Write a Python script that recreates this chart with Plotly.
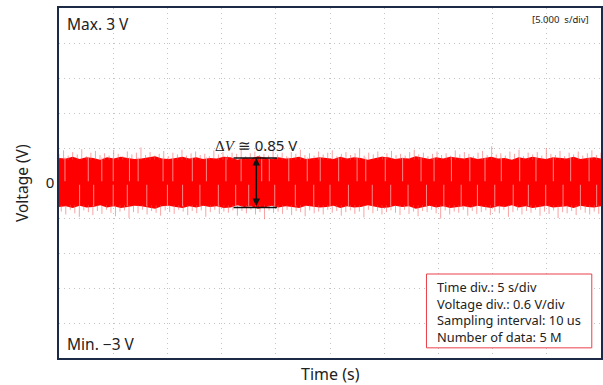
import plotly.graph_objects as go

# ---- data ----
t_start, t_end = 0.0, 50.0          # s (5 s/div, 10 div)
v_min, v_max = -3.0, 3.0            # V (0.6 V/div, 10 div)
v_grid = [-3.0, -2.4, -1.8, -1.2, -0.6, 0.0, 0.6, 1.2, 1.8, 2.4, 3.0]
v_ticktext = ["", "", "", "", "", "0", "", "", "", "", ""]
t_grid = [0, 5, 10, 15, 20, 25, 30, 35, 40, 45, 50]

# solid band envelope (V)
upper_env = [0.43,0.42,0.45,0.41,0.44,0.43,0.40,0.44,0.42,0.45,0.43,0.41,0.42,0.44,0.46,0.42,0.41,0.43,0.45,0.42,
             0.44,0.41,0.43,0.42,0.45,0.44,0.40,0.43,0.42,0.46,0.43,0.41,0.44,0.42,0.43,0.45,0.41,0.42,0.44,0.43,
             0.41,0.45,0.42,0.44,0.43,0.40,0.42,0.45,0.44,0.41,0.43,0.42,0.46,0.43,0.41,0.44,0.42,0.45,0.43,0.42,
             0.44,0.41,0.43,0.45,0.42,0.43,0.40,0.44,0.42,0.45,0.43,0.41,0.44,0.43,0.42,0.45,0.41,0.43,0.44,0.42]
lower_env = [-0.41,-0.40,-0.43,-0.39,-0.42,-0.41,-0.38,-0.42,-0.40,-0.43,-0.41,-0.39,-0.40,-0.42,-0.44,-0.40,-0.39,-0.41,-0.43,-0.40,
             -0.42,-0.39,-0.41,-0.40,-0.43,-0.42,-0.38,-0.41,-0.40,-0.44,-0.41,-0.39,-0.42,-0.40,-0.41,-0.43,-0.39,-0.40,-0.42,-0.41,
             -0.39,-0.43,-0.40,-0.42,-0.41,-0.38,-0.40,-0.43,-0.42,-0.39,-0.41,-0.40,-0.44,-0.41,-0.39,-0.42,-0.40,-0.43,-0.41,-0.40,
             -0.42,-0.39,-0.41,-0.43,-0.40,-0.41,-0.38,-0.42,-0.40,-0.43,-0.41,-0.39,-0.42,-0.41,-0.40,-0.43,-0.39,-0.41,-0.42,-0.40]

# noise spikes beyond the band (V)
upper_spk = [0.50,0.56,0.47,0.53,0.49,0.58,0.46,0.52,0.55,0.48,0.51,0.47,0.57,0.50,0.46,0.54,0.49,0.52,0.61,0.48,
             0.53,0.47,0.50,0.55,0.46,0.52,0.49,0.57,0.47,0.51,0.54,0.48,0.50,0.46,0.56,0.49,0.53,0.47,0.52,0.50,
             0.58,0.46,0.51,0.54,0.48,0.50,0.47,0.55,0.49,0.52,0.46,0.53,0.50,0.57,0.48,0.51,0.47,0.54,0.49,0.52,
             0.56,0.46,0.50,0.53,0.48,0.51,0.59,0.47,0.52,0.49,0.54,0.46,0.51,0.55,0.48,0.50,0.47,0.53,0.57,0.49,
             0.52,0.46,0.50,0.54,0.48,0.51,0.47,0.56,0.49,0.53,0.50,0.46,0.52,0.55,0.48,0.63,0.49,0.51,0.47,0.54,
             0.50,0.57,0.46,0.52,0.49,0.53,0.47,0.60,0.50,0.48,0.55,0.46,0.52,0.49,0.54,0.47,0.51,0.56,0.48,0.52]
lower_spk = [-0.49,-0.54,-0.46,-0.52,-0.58,-0.47,-0.50,-0.55,-0.48,-0.53,-0.46,-0.51,-0.57,-0.49,-0.47,-0.60,-0.50,-0.52,-0.46,-0.54,
             -0.48,-0.51,-0.56,-0.47,-0.50,-0.53,-0.46,-0.49,-0.55,-0.48,-0.52,-0.47,-0.58,-0.50,-0.46,-0.53,-0.49,-0.51,-0.47,-0.56,
             -0.48,-0.52,-0.46,-0.54,-0.50,-0.62,-0.47,-0.51,-0.49,-0.53,-0.46,-0.55,-0.48,-0.50,-0.57,-0.47,-0.52,-0.49,-0.54,-0.46,
             -0.51,-0.48,-0.56,-0.50,-0.47,-0.53,-0.49,-0.59,-0.46,-0.52,-0.48,-0.54,-0.50,-0.47,-0.51,-0.55,-0.46,-0.53,-0.49,-0.57,
             -0.48,-0.50,-0.46,-0.52,-0.61,-0.47,-0.54,-0.49,-0.51,-0.46,-0.56,-0.48,-0.53,-0.50,-0.47,-0.55,-0.49,-0.52,-0.46,-0.58,
             -0.50,-0.47,-0.54,-0.48,-0.51,-0.46,-0.56,-0.49,-0.53,-0.47,-0.60,-0.50,-0.52,-0.48,-0.55,-0.46,-0.51,-0.54,-0.49,-0.53]

# light streaks inside the band (s)
upper_streaks = [0.55,2.7,3.95,5.0,6.5,7.3,9.6,10.5,12.3,13.6,15.4,16.8,18.7,19.4,21.2,22.9,24.1,25.8,27.5,28.3,
                 30.1,31.7,33.4,34.6,36.2,37.9,39.3,40.8,42.5,44.0,45.6,47.2,48.9]
lower_streaks = [1.9,3.2,5.0,6.3,8.1,10.0,11.4,13.0,14.7,16.3,17.5,19.9,21.8,23.5,25.0,26.7,28.9,30.6,32.2,33.9,
                 35.5,37.1,38.6,40.2,41.9,43.3,44.9,46.5,48.1,49.6]

dv_top, dv_bot = 0.43, -0.42
dv_t0, dv_t1, dv_ta = 16.1, 20.1, 18.2

info_lines = ["Time div.: 5 s/div", "Voltage div.: 0.6 V/div",
              "Sampling interval: 10 us", "Number of data: 5 M"]

# ---- build ----
def times(n):
    return [t_start + (t_end - t_start) * i / (n - 1) for i in range(n)]

fig = go.Figure()

te = times(len(upper_env))
fig.add_trace(go.Scatter(x=te, y=lower_env, mode="lines", line=dict(width=0, color="#ff0000"),
                         hoverinfo="skip", showlegend=False))
fig.add_trace(go.Scatter(x=te, y=upper_env, mode="lines", line=dict(width=0, color="#ff0000"),
                         fill="tonexty", fillcolor="#ff0000", hoverinfo="skip", showlegend=False))

sx, sy = [], []
for t, v in zip(times(len(upper_spk)), upper_spk):
    sx += [t, t, None]; sy += [0.40, v, None]
n_l = len(lower_spk)
for i, v in enumerate(lower_spk):
    t = t_start + (t_end - t_start) * (i + 0.5) / n_l
    sx += [t, t, None]; sy += [-0.38, v, None]
fig.add_trace(go.Scatter(x=sx, y=sy, mode="lines", line=dict(width=1, color="rgba(240,90,90,0.55)"),
                         hoverinfo="skip", showlegend=False))

wx, wy = [], []
for t in upper_streaks:
    wx += [t, t, None]; wy += [0.44, 0.03, None]
for t in lower_streaks:
    wx += [t, t, None]; wy += [-0.03, -0.40, None]
fig.add_trace(go.Scatter(x=wx, y=wy, mode="lines", line=dict(width=1, color="rgba(255,170,170,0.8)"),
                         hoverinfo="skip", showlegend=False))

fnt = "Noto Sans, Open Sans, sans-serif"
txt = "#222222"

# delta V markers
for v in (dv_top, dv_bot):
    fig.add_shape(type="line", xref="x", yref="y", x0=dv_t0, x1=dv_t1, y0=v, y1=v,
                  line=dict(color="#111111", width=1.5))
fig.add_annotation(x=dv_ta, y=dv_top, ax=dv_ta, ay=dv_bot, xref="x", yref="y", axref="x", ayref="y",
                   showarrow=True, arrowhead=2, arrowside="end+start", arrowsize=1, arrowwidth=1.5,
                   arrowcolor="#111111", text="")
fig.add_annotation(x=dv_ta, y=dv_top, xref="x", yref="y", yanchor="bottom", yshift=1, showarrow=False,
                   text="<span style='font-family:Liberation Serif'>Δ<i>V</i></span> ≅ 0.85 V",
                   font=dict(family=fnt, size=15, color=txt))

fig.add_annotation(x=0, y=1, xref="paper", yref="paper", xanchor="left", yanchor="top",
                   xshift=6, yshift=-3, showarrow=False, text="Max. 3 V",
                   font=dict(family=fnt, size=15.5, color=txt))
fig.add_annotation(x=0, y=0, xref="paper", yref="paper", xanchor="left", yanchor="bottom",
                   xshift=6, yshift=1, showarrow=False, text="Min. −3 V",
                   font=dict(family=fnt, size=15.5, color=txt))
fig.add_annotation(x=1, y=1, xref="paper", yref="paper", xanchor="right", yanchor="top",
                   xshift=-10, yshift=-3, showarrow=False, text="[5.000  s/div]",
                   font=dict(family=fnt, size=9.5, color=txt))

# info box (plot area: 544 x 350 px)
fig.add_shape(type="rect", xref="paper", yref="paper", x0=0.678, x1=0.983, y0=0.029, y1=0.24,
              line=dict(color="#e8404a", width=1), fillcolor="white", layer="above")
fig.add_annotation(x=0.693, y=0.131, xref="paper", yref="paper",
                   xanchor="left", yanchor="middle", showarrow=False, align="left",
                   text="<br>".join(info_lines),
                   font=dict(family=fnt, size=12.8, color=txt))

fig.add_annotation(x=0.5, y=0, xref="paper", yref="paper", xanchor="center", yanchor="top",
                   yshift=-3, showarrow=False, text="Time (s)",
                   font=dict(family=fnt, size=16, color=txt))
fig.add_annotation(x=0, y=0.5, xref="paper", yref="paper", xanchor="center", yanchor="middle",
                   xshift=-37, showarrow=False, text="Voltage (V)", textangle=-90,
                   font=dict(family=fnt, size=15.5, color=txt))

fig.update_layout(
    width=603, height=385, margin=dict(l=59, r=0, t=8, b=27),
    paper_bgcolor="white", plot_bgcolor="white", showlegend=False,
    xaxis=dict(range=[t_start, t_end], tickvals=t_grid, showticklabels=False, ticks="",
               showgrid=True, gridcolor="#c4c4c4", griddash="1px,4px", gridwidth=1,
               showline=True, mirror=True, linecolor="#1c2a48", linewidth=1.5, zeroline=False),
    yaxis=dict(range=[v_min, v_max], tickvals=v_grid, ticktext=v_ticktext, ticks="",
               tickfont=dict(family=fnt, size=15, color=txt),
               showgrid=True, gridcolor="#c4c4c4", griddash="1px,4px", gridwidth=1,
               showline=True, mirror=True, linecolor="#1c2a48", linewidth=1.5, zeroline=False),
)

fig.write_html("out.html")
